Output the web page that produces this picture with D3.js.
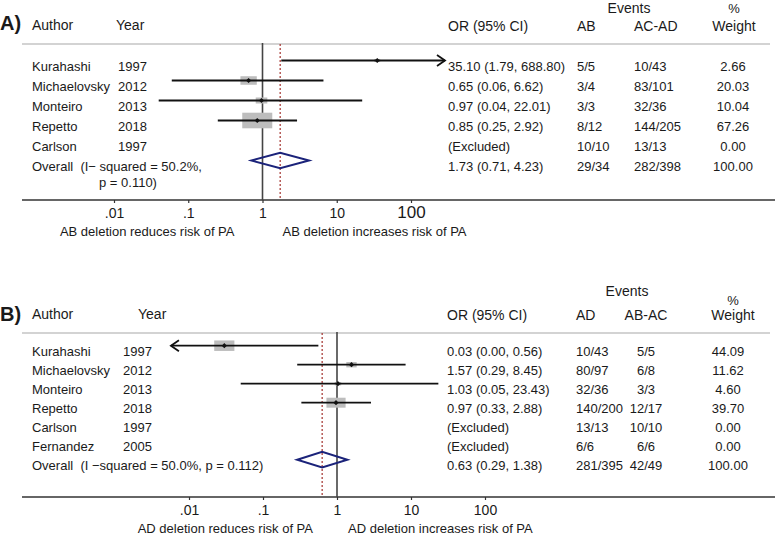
<!DOCTYPE html>
<html><head><meta charset="utf-8">
<script src="https://cdn.jsdelivr.net/npm/d3@7"></script>
<style>
body{margin:0;background:#fff}
text{font-family:"Liberation Sans",Arial,Helvetica,sans-serif;fill:#1a1a1a}
</style>
</head><body>
<svg id="c" width="778" height="535"></svg>
<script>
// ---------- Panel A data ----------
const authorsA = ["Kurahashi","Michaelovsky","Monteiro","Repetto","Carlson"];
const yearsA   = ["1997","2012","2013","2018","1997"];
const orA      = [35.10, 0.65, 0.97, 0.85, null];
const lowA     = [1.79, 0.06, 0.04, 0.25, null];
const highA    = [688.80, 6.62, 22.01, 2.92, null];
const evAB_A   = ["5/5","3/4","3/3","8/12","10/10"];
const evACAD_A = ["10/43","83/101","32/36","144/205","13/13"];
const weightA  = [2.66, 20.03, 10.04, 67.26, 0.00];
const overallA = [1.73, 0.71, 4.23];
const overallEvA = ["29/34","282/398"];
const overallWA = 100.00;

// ---------- Panel B data ----------
const authorsB = ["Kurahashi","Michaelovsky","Monteiro","Repetto","Carlson","Fernandez"];
const yearsB   = ["1997","2012","2013","2018","1997","2005"];
const orB      = [0.03, 1.57, 1.03, 0.97, null, null];
const lowB     = [0.00, 0.29, 0.05, 0.33, null, null];
const highB    = [0.56, 8.45, 23.43, 2.88, null, null];
const evAD_B   = ["10/43","80/97","32/36","140/200","13/13","6/6"];
const evABAC_B = ["5/5","6/8","3/3","12/17","10/10","6/6"];
const weightB  = [44.09, 11.62, 4.60, 39.70, 0.00, 0.00];
const overallB = [0.63, 0.29, 1.38];
const overallEvB = ["281/395","42/49"];
const overallWB = 100.00;

// ---------- Axis ----------
const tickValues = [0.01, 0.1, 1, 10, 100];
const tickLabels = [".01", ".1", "1", "10", "100"];

const fmt = d3.format(".2f");
const svg = d3.select("#c");

function txt(g, x, y, s, size, anchor, weight){
  return g.append("text").attr("x", x).attr("y", y)
    .attr("font-size", size).attr("text-anchor", anchor || "start")
    .attr("font-weight", weight || "normal")
    .style("white-space","pre").text(s);
}

function panel(o){
  const g = svg.append("g");
  const x = d3.scaleLog().domain([0.01, 100]).range(o.range);
  const [cmin, cmax] = o.clip;
  const h = o.head;

  // headers
  txt(g, 0, h.label, o.label, 20, "start", "bold");
  txt(g, 32, h.main, "Author", 14);
  txt(g, o.yearHeadX, h.main, "Year", 14);
  txt(g, o.orX, h.main + 1, "OR (95% CI)", 14);
  txt(g, o.c1X, h.main + 1, o.c1, 14);
  txt(g, o.c2X, h.main + 1, o.c2, 14, o.c2Anchor);
  txt(g, o.evX, h.events, "Events", 14, "middle");
  txt(g, o.wHeadX, h.pct, "%", 13, "middle");
  txt(g, o.wHeadX, h.main + 1, "Weight", 14, "middle");

  // separator & axis line
  g.append("line").attr("x1", 22).attr("x2", 770).attr("y1", o.sepY).attr("y2", o.sepY)
    .attr("stroke", "#c4c4c4").attr("stroke-width", 1.5);
  g.append("line").attr("x1", 22).attr("x2", 775).attr("y1", o.axisY).attr("y2", o.axisY)
    .attr("stroke", "#333").attr("stroke-width", 1.5);

  // null line and overall dotted line
  g.append("line").attr("x1", x(1)).attr("x2", x(1)).attr("y1", o.sepY - 1).attr("y2", o.axisY)
    .attr("stroke", "#444").attr("stroke-width", 1.6);
  g.append("line").attr("x1", x(o.overall[0])).attr("x2", x(o.overall[0]))
    .attr("y1", o.sepY).attr("y2", o.axisY)
    .attr("stroke", "#a3302c").attr("stroke-width", 1.2).attr("stroke-dasharray", "2,2");

  const rowY = i => o.row0 + o.rowH * i;
  const n = o.authors.length;

  for (let i = 0; i < n; i++){
    const y = rowY(i), tb = y + 10.3;
    txt(g, 32, tb, o.authors[i], 13);
    txt(g, o.yearX, tb, o.years[i], 13);
    const est = o.or[i];
    txt(g, o.orX, tb, est == null ? "(Excluded)" :
        `${fmt(est)} (${fmt(o.low[i])}, ${fmt(o.high[i])})`, 13);
    txt(g, o.c1X, tb, o.ev1[i], 13);
    txt(g, o.c2RowX, tb, o.ev2[i], 13, o.c2Anchor);
    txt(g, o.wX, tb, fmt(o.weight[i]), 13, "middle");

    if (est != null){
      const bw = o.boxK * Math.sqrt(o.weight[i]), bh = bw * 0.52;
      g.append("rect").attr("x", x(est) - bw/2).attr("y", y - bh/2)
        .attr("width", bw).attr("height", bh).attr("fill", "#bdbdbd");
      const lo = Math.max(o.low[i], cmin), hi = Math.min(o.high[i], cmax);
      const x0 = o.low[i] < cmin ? x(cmin) : x(lo);
      const x1 = o.high[i] > cmax ? x(cmax) : x(hi);
      g.append("line").attr("x1", x0).attr("x2", x1).attr("y1", y).attr("y2", y)
        .attr("stroke", "#111").attr("stroke-width", 1.8);
      if (o.high[i] > cmax){
        g.append("path").attr("d", `M${x1-8},${y-5.5}L${x1},${y}L${x1-8},${y+5.5}`)
          .attr("fill", "none").attr("stroke", "#111").attr("stroke-width", 1.8);
      }
      if (o.low[i] < cmin){
        g.append("path").attr("d", `M${x0+8},${y-5.5}L${x0},${y}L${x0+8},${y+5.5}`)
          .attr("fill", "none").attr("stroke", "#111").attr("stroke-width", 1.8);
      }
      const px = x(est);
      g.append("path").attr("d", `M${px-2.6},${y}L${px},${y-2.6}L${px+2.6},${y}L${px},${y+2.6}Z`)
        .attr("fill", "#111");
    }
  }

  // overall row
  const oy = rowY(n), otb = oy + 10.3;
  o.overallText.forEach((t, k) => txt(g, t[0], otb + t[1], t[2], 13));
  txt(g, o.orX, otb, `${fmt(o.overall[0])} (${fmt(o.overall[1])}, ${fmt(o.overall[2])})`, 13);
  txt(g, o.c1X, otb, o.overallEv[0], 13);
  txt(g, o.c2RowX, otb, o.overallEv[1], 13, o.c2Anchor);
  txt(g, o.wX, otb, fmt(o.overallW), 13, "middle");
  const [oe, ol, oh] = o.overall;
  g.append("path")
    .attr("d", `M${x(ol)},${oy}L${x(oe)},${oy-7.8}L${x(oh)},${oy}L${x(oe)},${oy+7.8}Z`)
    .attr("fill", "none").attr("stroke", "#1b237a").attr("stroke-width", 2);

  // axis ticks
  const ax = g.append("g").attr("transform", `translate(0,${o.axisY})`)
    .call(d3.axisBottom(x).tickValues(tickValues).tickSize(3)
      .tickFormat((d, i) => tickLabels[i]));
  ax.select(".domain").remove();
  ax.selectAll(".tick line").attr("stroke", "#333").attr("stroke-width", 1.2);
  ax.selectAll(".tick text").attr("y", 18).attr("dy", 0)
    .attr("font-size", (d, i) => (o.bigLast && i === tickLabels.length - 1) ? 17 : 14)
    .attr("fill", "#1a1a1a")
    .style("font-family", '"Liberation Sans",Arial,Helvetica,sans-serif');

  // direction labels
  txt(g, x(1) + o.subL, o.axisY + 35.5, o.subLeft, 13, "end");
  txt(g, x(1) + o.subR, o.axisY + 35.5, o.subRight, 13, "start");
}

panel({
  label: "A)", head: {label: 30, main: 29.5, events: 12.5, pct: 12.5},
  range: [114, 411], clip: [0.001, 287],
  yearHeadX: 116, yearX: 118, orX: 448, c1: "AB", c1X: 577, c2: "AC-AD", c2X: 634, c2RowX: 634, c2Anchor: "start",
  evX: 629, wHeadX: 734, wX: 733,
  sepY: 44, axisY: 200, row0: 60.5, rowH: 20, boxK: 3.66,
  authors: authorsA, years: yearsA, or: orA, low: lowA, high: highA,
  ev1: evAB_A, ev2: evACAD_A, weight: weightA,
  overall: overallA, overallEv: overallEvA, overallW: overallWA,
  overallText: [[32, 0, "Overall  (I\u2212 squared = 50.2%,"], [99, 16.5, "p = 0.110)"]],
  bigLast: true,
  subL: -28, subR: 20,
  subLeft: "AB deletion reduces risk of PA", subRight: "AB deletion increases risk of PA"
});

panel({
  label: "B)", head: {label: 321, main: 319, events: 296, pct: 305},
  range: [189, 485], clip: [0.0057, 1000],
  yearHeadX: 138, yearX: 123, orX: 447, c1: "AD", c1X: 576, c2: "AB-AC", c2X: 646, c2RowX: 646, c2Anchor: "middle",
  evX: 627, wHeadX: 733, wX: 728,
  sepY: 333, axisY: 497, row0: 345.7, rowH: 19, boxK: 3.04,
  authors: authorsB, years: yearsB, or: orB, low: lowB, high: highB,
  ev1: evAD_B, ev2: evABAC_B, weight: weightB,
  overall: overallB, overallEv: overallEvB, overallW: overallWB,
  overallText: [[32, 0, "Overall  (I \u2212squared = 50.0%, p = 0.112)"]],
  bigLast: false,
  subL: -24, subR: 11,
  subLeft: "AD deletion reduces risk of PA", subRight: "AD deletion increases risk of PA"
});
</script>
</body></html>
